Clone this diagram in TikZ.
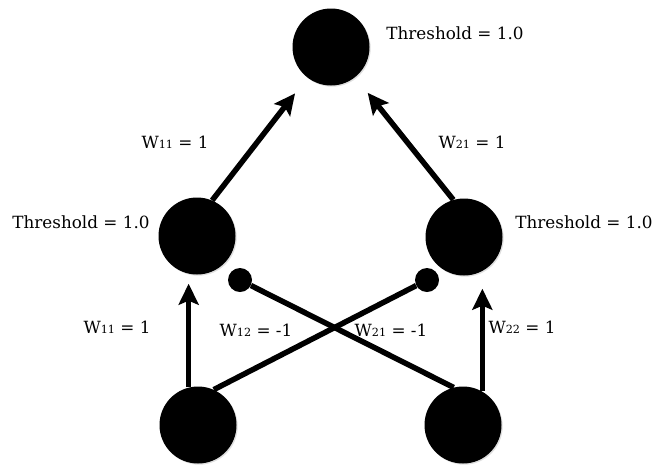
\documentclass[tikz,border=0pt]{standalone}
\usepackage{fontspec}
\setmainfont{DejaVu Serif}
\usetikzlibrary{arrows.meta,shadows}
\newcommand\wsub[1]{{\fontsize{11.2}{13}\selectfont #1}}
\tikzset{
  neuron/.style={circle,fill=black,inner sep=0pt,minimum size=#1,
    drop shadow={opacity=0.25,shadow xshift=1.2pt,shadow yshift=-1.2pt}},
  neuron/.default=77pt,
  inhib/.style={circle,fill=black,inner sep=0pt,minimum size=24pt},
  wlabel/.style={font=\fontsize{16.8}{20}\selectfont,inner sep=1pt},
  link/.style={line width=5.5pt}
}
\begin{document}
\begin{tikzpicture}[x=1pt,y=-1pt,line join=round,>={Stealth[length=21pt,width=20pt,inset=4pt]}]
	\useasboundingbox (0,0) rectangle (655,464);
	\clip (0,0) rectangle (655,464);
	% neurons
	\node[neuron] (t) at (331,47) {};
	\node[neuron] (h1) at (197,236) {};
	\node[neuron] (h2) at (464,237) {};
	\node[neuron] (i1) at (198,425) {};
	\node[neuron] (i2) at (463,425) {};
	\node[inhib] (d1) at (240,280) {};
	\node[inhib] (d2) at (427,280) {};
	% connections
	\draw[link,->,shorten >=20pt] (h1.67) -- (t);
	\draw[link,->,shorten >=20pt] (h2.106) -- (t);
	\draw[link,->,shorten >=9pt] (i1.104) -- (i1.104 |- h1.south);
	\draw[link,->,shorten >=13pt] (i2.60) -- (i2.60 |- h2.south);
	\draw[link] (i1.66) -- (d2);
	\draw[link] (i2.104) -- (d1);
	% labels
	\foreach \n/\p/\s in {th0/{(455,33)}/{Threshold = 1.0},
		th1/{(81,222)}/{Threshold = 1.0},
		th2/{(584,222)}/{Threshold = 1.0},
		wa/{(175,142)}/{W\wsub{11} = 1},
		wb/{(472,142)}/{W\wsub{21} = 1},
		wc/{(117,327)}/{W\wsub{11} = 1},
		wd/{(256,330)}/{W\wsub{12} = -1},
		we/{(391,330)}/{W\wsub{21} = -1},
		wf/{(522,327)}/{W\wsub{22} = 1}}{
		\node[wlabel] (\n) at \p {\s};
	}
\end{tikzpicture}
\end{document}
